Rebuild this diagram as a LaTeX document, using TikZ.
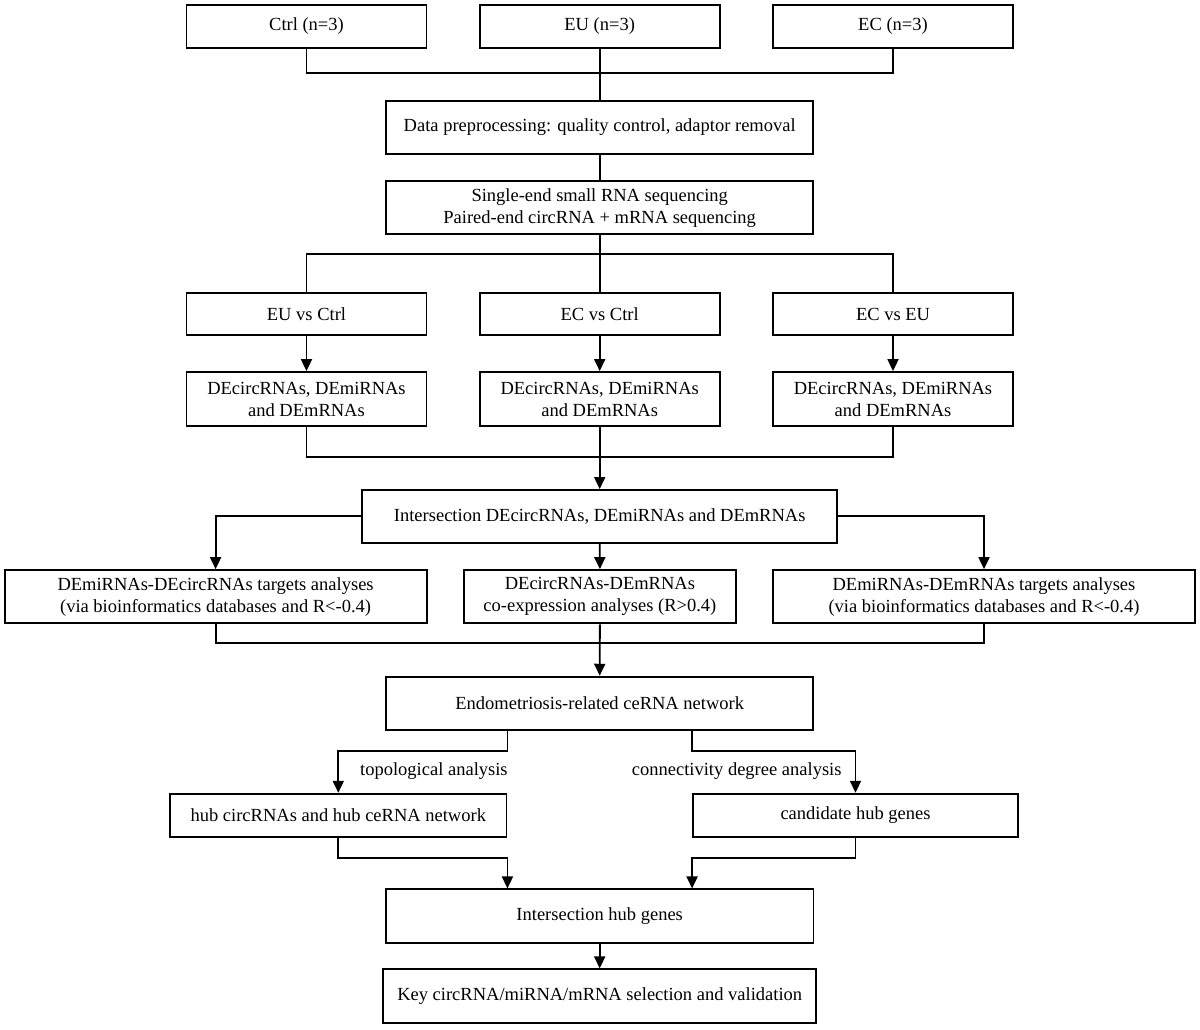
\documentclass[tikz,border=0pt]{standalone}
\usepackage{fontspec}
\setmainfont{Liberation Serif}
\usetikzlibrary{arrows.meta,calc}
\begin{document}
\begin{tikzpicture}[x=1pt,y=-1pt,
  box/.style={draw=black,line width=1.8pt,inner sep=0pt,align=center,
    font=\fontsize{18.5}{22}\selectfont},
  lbl/.style={inner sep=0pt,font=\fontsize{18.5}{22}\selectfont},
  ln/.style={draw=black,line width=1.8pt},
  arr/.style={ln,-{Triangle[length=12pt,width=11pt]}}]
\useasboundingbox (0,0) rectangle (1200,1029);
\fill[white] (0,0) rectangle (1200,1029);
% top row
\node[box,minimum width=240pt,minimum height=43pt] (ctrl) at (306.5,26.2) {Ctrl (n=3)};
\node[box,minimum width=240pt,minimum height=43pt] (eu) at (599.7,26.2) {EU (n=3)};
\node[box,minimum width=240pt,minimum height=43pt] (ec) at (893,26.2) {EC (n=3)};
\node[box,minimum width=427pt,minimum height=53.3pt] (data) at (599.7,127.3) {Data preprocessing: quality control, adaptor removal};
\node[box,minimum width=427pt,minimum height=53.3pt] (seq) at (599.7,207.7) {Single-end small RNA sequencing\\Paired-end circRNA + mRNA sequencing};
\node[box,minimum width=240pt,minimum height=42.6pt] (euctrl) at (306.5,314) {EU vs Ctrl};
\node[box,minimum width=240pt,minimum height=42.6pt] (ecctrl) at (599.7,314) {EC vs Ctrl};
\node[box,minimum width=240pt,minimum height=42.6pt] (eceu) at (893,314) {EC vs EU};
\node[box,minimum width=240pt,minimum height=54pt] (de1) at (306.5,399) {DEcircRNAs, DEmiRNAs\\and DEmRNAs};
\node[box,minimum width=240pt,minimum height=54pt] (de2) at (599.7,399) {DEcircRNAs, DEmiRNAs\\and DEmRNAs};
\node[box,minimum width=240pt,minimum height=54pt] (de3) at (893,399) {DEcircRNAs, DEmiRNAs\\and DEmRNAs};
\node[box,minimum width=475pt,minimum height=52.7pt] (inter) at (599.7,516.3) {Intersection DEcircRNAs, DEmiRNAs and DEmRNAs};
\node[box,minimum width=422pt,minimum height=53.3pt] (t1) at (215.6,596.7) {DEmiRNAs-DEcircRNAs targets analyses\\(via bioinformatics databases and R<-0.4)};
\node[box,minimum width=272pt,minimum height=53.3pt] (t2) at (599.9,596.7) {DEcircRNAs-DEmRNAs\\co-expression analyses (R>0.4)};
\node[box,minimum width=422pt,minimum height=53.3pt] (t3) at (984,596.7) {DEmiRNAs-DEmRNAs targets analyses\\(via bioinformatics databases and R<-0.4)};
\node[box,minimum width=427pt,minimum height=53.3pt] (endo) at (599.7,703.3) {Endometriosis-related ceRNA network};
\node[box,minimum width=336.5pt,minimum height=43pt] (hub) at (338.3,815.2) {hub circRNAs and hub ceRNA network};
\node[box,minimum width=325pt,minimum height=43pt] (cand) at (855.5,815.2) {candidate hub genes};
\node[box,minimum width=427.6pt,minimum height=53.7pt] (ihub) at (599.7,916.2) {Intersection hub genes};
\node[box,minimum width=433pt,minimum height=54pt] (key) at (599.7,996.3) {Key circRNA/miRNA/mRNA selection and validation};
\node[lbl,anchor=west] (l1) at (360,771) {topological analysis};
\node[lbl,anchor=east] (l2) at (841.7,771) {connectivity degree analysis};
% junction coordinates
\coordinate (m1) at (599.7,73.3);
\coordinate (m2) at (599.7,254);
\coordinate (m3) at (599.7,457.3);
\coordinate (m4) at (599.7,642.7);
% connectors
\draw[ln] (ctrl.south) |- (m1);
\draw[ln] (ec.south) |- (m1);
\draw[ln] (eu.south) -- (data.north);
\draw[ln] (data.south) -- (seq.north);
\draw[ln] (seq.south) -- (ecctrl.north);
\draw[ln] (m2) -| (euctrl.north);
\draw[ln] (m2) -| (eceu.north);
\draw[arr] (euctrl.south) -- (de1.north);
\draw[arr] (ecctrl.south) -- (de2.north);
\draw[arr] (eceu.south) -- (de3.north);
\draw[ln] (de1.south) |- (m3);
\draw[ln] (de3.south) |- (m3);
\draw[arr] (de2.south) -- (inter.north);
\draw[arr] (inter.west) -| (t1.north);
\draw[arr] (inter.east) -| (t3.north);
\draw[arr] (inter.south) -- (t2.north);
\draw[ln] (t1.south) |- (m4);
\draw[ln] (t3.south) |- (m4);
\draw[arr] (t2.south) -- (endo.north);
\draw[arr] (endo.south -| hub.east) -- ++(0,20) -| (hub.north);
\draw[arr] (endo.south -| cand.west) -- ++(0,20) -| (cand.north);
\draw[arr] (hub.south) -- ++(0,20) -| (ihub.north -| hub.east);
\draw[arr] (cand.south) -- ++(0,20) -| (ihub.north -| cand.west);
\draw[arr] (ihub.south) -- (key.north);
\end{tikzpicture}
\end{document}
